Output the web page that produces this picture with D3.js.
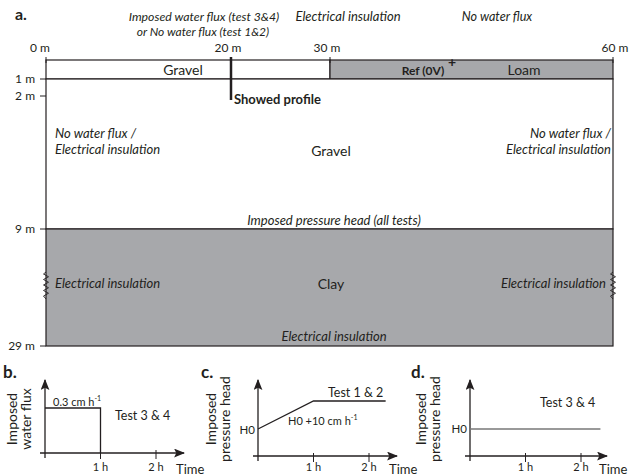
<!DOCTYPE html>
<html>
<head>
<meta charset="utf-8">
<script src="https://cdn.jsdelivr.net/npm/d3@7"></script>
<style>
body { margin:0; background:#fff; }
text { font-family: Lato, "Open Sans", sans-serif; fill:#231f20; }
.it { font-style: italic; }
</style>
</head>
<body>
<svg id="svg" width="629" height="476"></svg>
<script>
var svg = d3.select("#svg");

// ---- data ----
var distTicks  = [0, 20, 30, 60];          // m
var depthTicks = [1, 2, 9, 29];            // m
var layers = [                              // [x0, x1, top, bottom, name, fill]
    [0, 30, 0, 1, "Gravel", "#fff"],
    [30, 60, 0, 1, "Loam", "#a7a8ab"],
    [0, 60, 1, 9, "Gravel", "#fff"],
    [0, 60, 9, 29, "Clay", "#a7a8ab"]
];
var profileAt = 20;
var timeTicks = [1, 2];                    // h
var fluxB  = [[0, 0.3], [1, 0.3], [1, 0]]; // cm/h
var headC  = [[0, 0], [1, 10], [2.3, 10]]; // cm above H0
var headD  = [[0, 0], [2.35, 0]];

var ink = "#231f20";

// ---- panel a ----
var x = d3.scaleLinear().domain([0, 20, 30, 60]).range([46, 231, 330, 613]);
var y = d3.scaleLinear().domain([0, 1, 2, 9, 29]).range([60, 79, 96, 229, 346]);

svg.append("text").attr("x", 15).attr("y", 20).attr("font-size", 16).attr("font-weight", "bold").text("a.");

svg.selectAll(".lay").data(layers).enter().append("rect")
    .attr("x", d => x(d[0])).attr("y", d => y(d[2]))
    .attr("width", d => x(d[1]) - x(d[0])).attr("height", d => y(d[3]) - y(d[2]))
    .attr("fill", d => d[5]).attr("stroke", ink).attr("stroke-width", 1.2);

// distance axis on top
var gTop = svg.append("g");
gTop.selectAll("line").data(distTicks).enter().append("line")
    .attr("x1", d => x(d)).attr("x2", d => x(d)).attr("y1", 57).attr("y2", 63)
    .attr("stroke", ink).attr("stroke-width", 1);
gTop.selectAll("text").data(distTicks).enter().append("text")
    .attr("x", d => x(d) + (d === 0 ? -6 : d === 60 ? 2 : -3)).attr("y", 52).attr("font-size", 12)
    .attr("text-anchor", "middle").text(d => d + " m");

// depth axis on left
var gLeft = svg.append("g");
gLeft.selectAll("line").data(depthTicks).enter().append("line")
    .attr("x1", 40).attr("x2", 46).attr("y1", d => y(d)).attr("y2", d => y(d))
    .attr("stroke", ink);
gLeft.selectAll("text").data(depthTicks).enter().append("text")
    .attr("x", 35).attr("y", d => y(d) + 4).attr("font-size", 12)
    .attr("text-anchor", "end").text(d => d + " m");

// profile line
svg.append("line").attr("x1", x(profileAt)).attr("x2", x(profileAt))
    .attr("y1", 57).attr("y2", 100).attr("stroke", ink).attr("stroke-width", 2.5);
svg.append("text").attr("x", x(profileAt) + 3).attr("y", 104).attr("font-size", 13)
    .attr("font-weight", "bold").text("Showed profile");

// labels
function lab(t, xx, yy, size, opt) {
    var e = svg.append("text").attr("x", xx).attr("y", yy).attr("font-size", size)
        .attr("text-anchor", (opt && opt.anchor) || "middle").text(t);
    if (opt && opt.it) e.attr("class", "it");
    if (opt && opt.bold) e.attr("font-weight", "bold");
    return e;
}
lab("Gravel", 183, 75, 14);
lab("Loam", 524, 75, 14);
lab("Ref (0V)", 423, 75, 12, {bold: true});
lab("+", 452, 67, 14, {bold: true});
lab("Gravel", 331, 156, 14);
lab("Clay", 331, 289, 14);

lab("Imposed water flux (test 3&4)", 204, 21, 12.3, {it: true});
lab("or No water flux (test 1&2)", 203, 36, 12, {it: true});
lab("Electrical insulation", 348, 21, 13, {it: true});
lab("No water flux", 497, 21, 12.6, {it: true});

lab("No water flux /", 55, 138, 13, {it: true, anchor: "start"});
lab("Electrical insulation", 55, 154, 13, {it: true, anchor: "start"});
lab("No water flux /", 611, 138, 13, {it: true, anchor: "end"});
lab("Electrical insulation", 611, 154, 13, {it: true, anchor: "end"});
lab("Imposed pressure head (all tests)", 334, 225, 13, {it: true});
lab("Electrical insulation", 55, 288, 13, {it: true, anchor: "start"});
lab("Electrical insulation", 606, 288, 13, {it: true, anchor: "end"});
lab("Electrical insulation", 334, 341, 13, {it: true});

// zigzag insulation marks on the clay sides
function zig(cx) {
    var pts = d3.range(0, 9).map(i => [cx + (i % 2 ? 2.5 : -2.5), 274 + i * 2.75]);
    pts.unshift([cx, 272]); pts.push([cx, 299]);
    svg.append("path").attr("d", d3.line()(pts)).attr("fill", "none")
        .attr("stroke", ink).attr("stroke-width", 0.9);
}
zig(x(0)); zig(x(60));

// ---- small panels ----
svg.append("defs").append("marker").attr("id", "arr")
    .attr("viewBox", "0 0 10 8").attr("markerWidth", 11).attr("markerHeight", 9)
    .attr("refX", 9).attr("refY", 4).attr("orient", "auto").attr("markerUnits", "userSpaceOnUse")
    .append("path").attr("d", "M0 0L10 4L0 8L2 4Z").attr("fill", ink);

function panel(o) {
    var g = svg.append("g");
    var sx = d3.scaleLinear().domain([0, 2]).range([o.x0, o.x0 + 111]);
    g.append("text").attr("x", o.lx).attr("y", 378).attr("font-size", 17)
        .attr("font-weight", "bold").text(o.letter);
    // axes
    g.append("line").attr("x1", o.x0).attr("x2", o.x0).attr("y1", o.ax + 5).attr("y2", 380)
        .attr("stroke", ink).attr("stroke-width", 1.3).attr("marker-end", "url(#arr)");
    g.append("line").attr("x1", o.x0 - 5).attr("x2", o.tip).attr("y1", o.ax).attr("y2", o.ax)
        .attr("stroke", ink).attr("stroke-width", 1.3).attr("marker-end", "url(#arr)");
    g.selectAll(".tk").data(timeTicks).enter().append("line")
        .attr("x1", d => sx(d)).attr("x2", d => sx(d)).attr("y1", o.ax - 3).attr("y2", o.ax + 6)
        .attr("stroke", ink);
    g.selectAll(".tl").data(timeTicks).enter().append("text")
        .attr("x", d => sx(d)).attr("y", 471).attr("font-size", 11)
        .attr("text-anchor", "middle").text(d => d + " h");
    g.append("text").attr("x", o.tip - 8).attr("y", 474).attr("font-size", 13).text("Time");
    // y label
    g.append("text").attr("transform", "translate(" + o.yl + "," + 419 + ") rotate(-90)")
        .attr("font-size", 14).attr("text-anchor", "middle")
        .selectAll("tspan").data(o.ylab).enter().append("tspan")
        .attr("x", 0).attr("dy", (d, i) => i ? 14 : 0).text(d => d);
    // series
    var sy = d3.scaleLinear().domain(o.ydom).range(o.yrng);
    g.append("path").attr("d", d3.line().x(d => sx(d[0])).y(d => sy(d[1]))(o.data))
        .attr("fill", "none").attr("stroke", o.col).attr("stroke-width", 1.3);
    o.notes.forEach(n => {
        var t = g.append("text").attr("x", n[1]).attr("y", n[2]).attr("font-size", n[3])
            .attr("text-anchor", n[4] || "start").text(n[0]);
        if (n[5]) t.append("tspan").attr("dy", -5).attr("font-size", 7).text(n[5]);
    });
}

panel({letter: "b.", lx: 3, x0: 45, ax: 453, tip: 184, yl: 17, ylab: ["Imposed", "water flux"],
    data: fluxB, ydom: [0, 0.3], yrng: [453, 408], col: ink,
    notes: [["0.3 cm h", 53, 406, 11, "start", "-1"], ["Test 3 & 4", 115, 420, 12.5]]});
panel({letter: "c.", lx: 201, x0: 258, ax: 456, tip: 397, yl: 216, ylab: ["Imposed", "pressure head"],
    data: headC, ydom: [0, 10], yrng: [429, 401], col: ink,
    notes: [["H0", 255, 434, 11.5, "end"], ["H0 +10 cm h", 288, 425, 11, "start", "-1"],
            ["Test 1 & 2", 328, 397, 12.5]]});
panel({letter: "d.", lx: 411, x0: 470, ax: 456, tip: 607, yl: 426, ylab: ["Imposed", "pressure head"],
    data: headD, ydom: [0, 10], yrng: [429, 401], col: "#777",
    notes: [["H0", 467, 433, 11.5, "end"], ["Test 3 & 4", 540, 407, 12.5]]});
</script>
</body>
</html>
